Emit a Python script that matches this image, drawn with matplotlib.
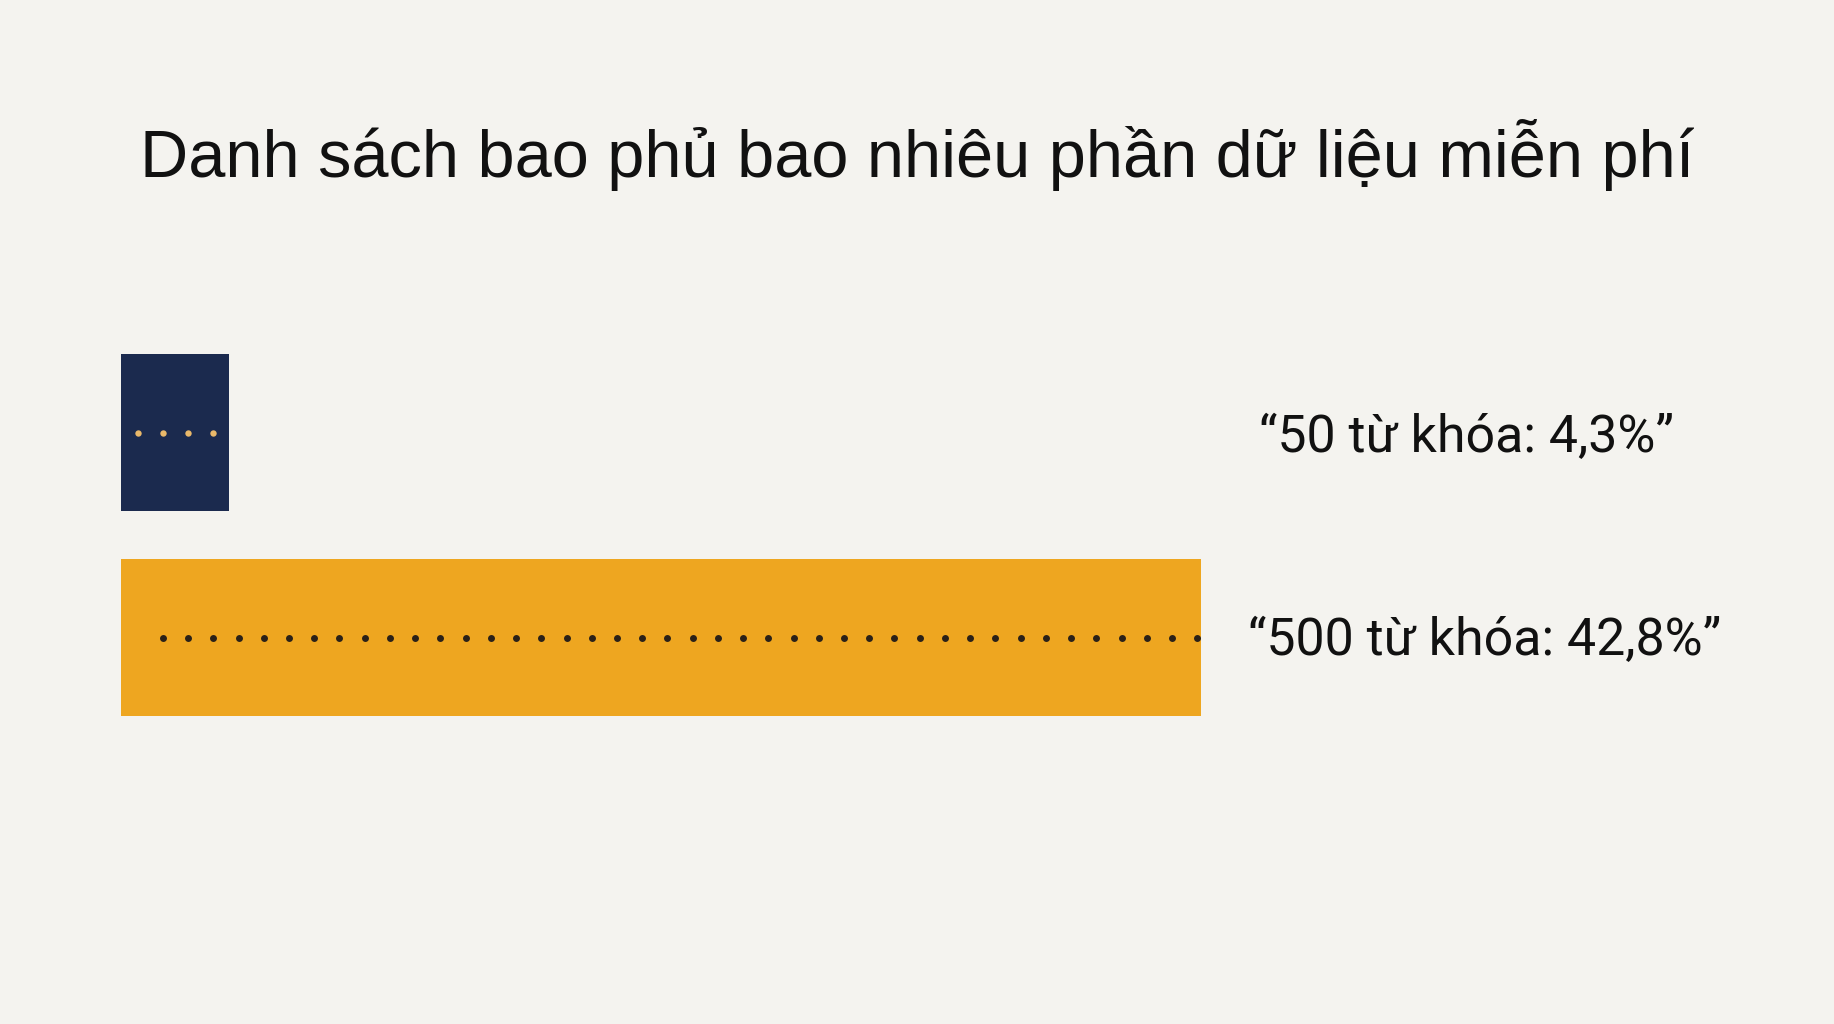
import matplotlib
matplotlib.use("Agg")
import matplotlib.pyplot as plt
import numpy as np

# ---------------------------------------------------------------------------
# Data
# ---------------------------------------------------------------------------
title = "Danh sách bao phủ bao nhiêu phần dữ liệu miễn phí"
keywords = [50, 500]
coverage = [4.3, 42.8]          # % of free data covered
labels = ["“50 từ khóa: 4,3%”", "“500 từ khóa: 42,8%”"]

BG = "#F4F3EF"
BAR_COLORS = ["#1B2A4E", "#EEA620"]
DOT_COLORS = ["#E9B86A", "#2A2118"]
DOT_START = [0.67, 1.67]

# ---------------------------------------------------------------------------
# Plot
# ---------------------------------------------------------------------------
W, H = 1834, 1024
fig = plt.figure(figsize=(W / 100, H / 100), dpi=100)
fig.patch.set_facecolor(BG)

ax = fig.add_axes([120.7 / W, 0.2769, 0.8254, 0.4004])
ax.set_facecolor(BG)

y = np.arange(len(coverage))
ax.barh(y, coverage, height=0.766, color=BAR_COLORS, edgecolor="none")

for i, v in enumerate(coverage):
    xs = np.arange(DOT_START[i], v, 1.0)
    ax.plot(xs, np.full_like(xs, y[i]), linestyle="none", marker="o",
            markersize=5 if i == 1 else 4.6, color=DOT_COLORS[i],
            markeredgewidth=0)

ax.set_xlim(0, 60)
ax.set_ylim(1.5, -0.5)
ax.axis("off")

fig.text(0.5, 1 - 177 / H, title, ha="center", va="baseline",
         fontsize=48, family="Liberation Sans", color="#111111")

label_pos = [(1259 / W, 1 - 451.7 / H), (1248 / W, 1 - 655 / H)]
for (lx, ly), txt in zip(label_pos, labels):
    fig.text(lx, ly, txt, ha="left", va="baseline",
             fontsize=37.4, family="Roboto", color="#111111")

fig.savefig("out.png", dpi=100, facecolor=BG)
plt.close(fig)
